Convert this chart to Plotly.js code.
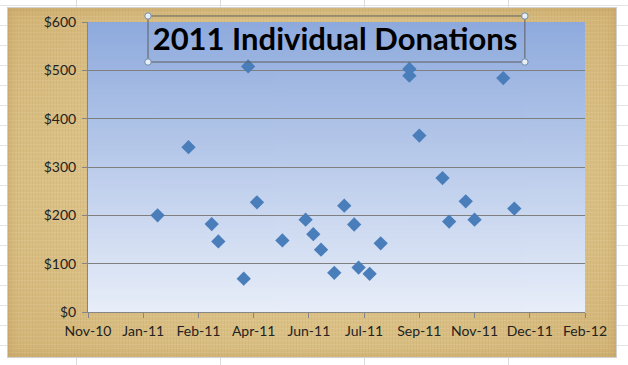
<!DOCTYPE html>
<html>
<head>
<meta charset="utf-8">
<script src="https://cdn.plot.ly/plotly-3.0.1.min.js"></script>
<style>
  html, body { margin:0; padding:0; width:628px; height:365px; overflow:hidden; }
  body {
    background-color:#ffffff;
    background-image:
      repeating-linear-gradient(90deg, transparent 0 76px, #dcdcdc 76px 77px, transparent 77px 144px),
      repeating-linear-gradient(0deg, transparent 0 19px, #e4e4e4 19px 20px);
    position:relative;
  }
  #frame {
    position:absolute; left:8px; top:8px; width:608px; height:349px;
    background-color:#d8bd82;
    background-image:
      repeating-linear-gradient(90deg, rgba(150,110,40,0.07) 0 1px, transparent 1px 3px),
      repeating-linear-gradient(0deg, rgba(255,248,225,0.10) 0 1px, transparent 1px 4px),
      radial-gradient(ellipse at 50% 50%, rgba(240,222,170,0.35) 0%, rgba(230,208,150,0.15) 60%, rgba(190,150,80,0.25) 100%);
    box-shadow: inset 0 0 8px rgba(170,130,60,0.35);
    outline:1px solid #d0d0d0;
  }
  #chart { position:absolute; left:0; top:0; width:628px; height:365px; }
</style>
</head>
<body>
<div id="frame"></div>
<div id="chart"></div>
<script>
// ---- data ----
const donationDates = [
  '2011-01-20','2011-02-17','2011-03-10','2011-03-16','2011-04-08','2011-04-12',
  '2011-04-20','2011-05-13','2011-06-03','2011-06-10','2011-06-17','2011-06-29',
  '2011-07-08','2011-07-17','2011-07-21','2011-07-31','2011-08-10','2011-09-05',
  '2011-09-05','2011-09-14','2011-10-05','2011-10-11','2011-10-26','2011-11-03',
  '2011-11-29','2011-12-09'
];
const donationAmounts = [
  200, 341, 182, 146, 69, 508,
  227, 148, 191, 161, 129, 81,
  220, 181, 92, 79, 142, 503,
  489, 365, 277, 187, 229, 191,
  484, 214
];
const xTickVals = ['2010-11-18','2011-01-07','2011-02-26','2011-04-17','2011-06-06',
                   '2011-07-26','2011-09-14','2011-11-03','2011-12-23','2012-02-11'];
const xTickText = ['Nov-10','Jan-11','Feb-11','Apr-11','Jun-11',
                   'Jul-11','Sep-11','Nov-11','Dec-11','Feb-12'];
const yTickVals = [0,100,200,300,400,500,600];
const yTickText = ['$0','$100','$200','$300','$400','$500','$600'];
const chartTitle = '2011 Individual Donations';

// ---- plot-area gradient ----
const cv = document.createElement('canvas');
cv.width = 4; cv.height = 256;
const cx = cv.getContext('2d');
const g = cx.createLinearGradient(0,0,0,256);
g.addColorStop(0, '#8eaadd');
g.addColorStop(1, '#e8eef9');
cx.fillStyle = g; cx.fillRect(0,0,4,256);
const gradURL = cv.toDataURL();

const fontFam = 'Lato, "Open Sans", sans-serif';

const trace = {
  type:'scatter', mode:'markers',
  x: donationDates, y: donationAmounts,
  marker:{symbol:'diamond', size:11, color:'#4a7ebb', line:{width:0}},
  hoverinfo:'x+y'
};

function handle(px, py){
  return {type:'circle', xref:'paper', yref:'paper', x0:px-0.0065, x1:px+0.0065, y0:py-0.011, y1:py+0.011,
          line:{color:'#6d8ca8', width:1}, fillcolor:'#e8eef4', layer:'above'};
}
const bx0 = 0.1207, bx1 = 0.879, by0 = 0.862, by1 = 1.0207;

const layout = {
  width:628, height:365,
  margin:{l:88, r:43, t:22, b:53},
  paper_bgcolor:'rgba(0,0,0,0)',
  plot_bgcolor:'rgba(0,0,0,0)',
  showlegend:false,
  font:{family:fontFam, size:14, color:'#222222'},
  title:{text:chartTitle, font:{family:fontFam, size:31, color:'#000000', weight:'bold'},
         xref:'paper', x:0.497, xanchor:'center', yref:'container', y:0.893, yanchor:'middle'},
  xaxis:{type:'date', range:[xTickVals[0], xTickVals[xTickVals.length-1]],
         tickmode:'array', tickvals:xTickVals, ticktext:xTickText,
         showgrid:false, zeroline:false, showline:true, linecolor:'#868686', linewidth:1,
         ticks:'outside', ticklen:5, tickcolor:'#868686', ticklabelstandoff:1, fixedrange:true},
  yaxis:{range:[0,600], tickmode:'array', tickvals:yTickVals, ticktext:yTickText,
         showgrid:true, gridcolor:'#7f7f7f', gridwidth:1, zeroline:false,
         showline:true, linecolor:'#868686', linewidth:1,
         ticks:'outside', ticklen:5, tickcolor:'#868686', ticklabelstandoff:3, fixedrange:true},
  images:[{source:gradURL, xref:'paper', yref:'paper', x:0, y:1, sizex:1, sizey:1,
           sizing:'stretch', xanchor:'left', yanchor:'top', layer:'below'}],
  shapes:[
    {type:'rect', xref:'paper', yref:'paper', x0:bx0, x1:bx1, y0:by0, y1:by1,
     line:{color:'#5f5f5f', width:1}, fillcolor:'rgba(0,0,0,0)', layer:'above'},
    handle(bx0,by0), handle(bx1,by0), handle(bx0,by1), handle(bx1,by1)
  ]
};

Plotly.newPlot('chart', [trace], layout, {displayModeBar:false, staticPlot:true});
</script>
</body>
</html>
